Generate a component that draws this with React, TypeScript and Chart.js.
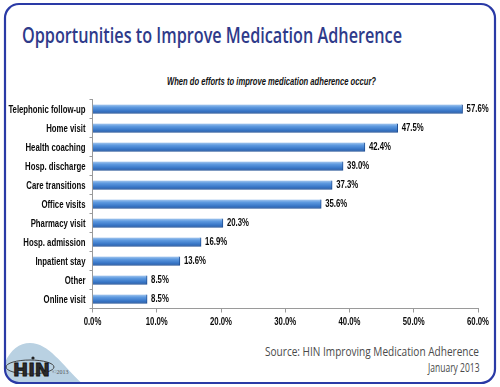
import React, { useEffect, useRef } from "react";
import { Chart, registerables } from "chart.js";

Chart.register(...registerables);

const categories = [
  "Telephonic follow-up",
  "Home visit",
  "Health coaching",
  "Hosp. discharge",
  "Care transitions",
  "Office visits",
  "Pharmacy visit",
  "Hosp. admission",
  "Inpatient stay",
  "Other",
  "Online visit",
];
const values = [57.6, 47.5, 42.4, 39.0, 37.3, 35.6, 20.3, 16.9, 13.6, 8.5, 8.5];
const xTicks = [0, 10, 20, 30, 40, 50, 60];

const titleText = "Opportunities to Improve Medication Adherence";
const subtitleText = "When do efforts to improve medication adherence occur?";
const sourceLines = ["Source: HIN Improving Medication Adherence", "January 2013"];

const LABEL_FONT = "'Liberation Sans', Arial, sans-serif";
const SQUEEZE = 0.74;

function drawCondensed(ctx: CanvasRenderingContext2D, text: string, x: number, y: number, align: CanvasTextAlign) {
  ctx.save();
  ctx.translate(x, y);
  ctx.scale(SQUEEZE, 1);
  ctx.textAlign = align;
  ctx.fillText(text, 0, 0);
  ctx.restore();
}

const condensedLabels = {
  id: "condensedLabels",
  afterDatasetsDraw(chart: any) {
    const ctx = chart.ctx;
    const xs = chart.scales.x;
    const ys = chart.scales.y;
    const meta = chart.getDatasetMeta(0);
    ctx.save();
    ctx.font = `bold 10.5px ${LABEL_FONT}`;
    ctx.fillStyle = "#0a0a0a";
    ctx.textBaseline = "middle";
    categories.forEach((c, i) => {
      drawCondensed(ctx, c, ys.right - 7, ys.getPixelForValue(i) + 1, "right");
    });
    xTicks.forEach((v) => {
      drawCondensed(ctx, v.toFixed(1) + "%", xs.getPixelForValue(v), xs.top + 13.5, "center");
    });
    meta.data.forEach((el: any, i: number) => {
      drawCondensed(ctx, values[i].toFixed(1) + "%", el.x + 4, el.y, "left");
    });
    ctx.restore();
  },
};

export default function App() {
  const ref = useRef<HTMLCanvasElement>(null);
  useEffect(() => {
    if (!ref.current) return;
    const chart = new Chart(ref.current, {
      type: "bar",
      data: {
        labels: categories,
        datasets: [
          {
            data: values,
            barThickness: 9,
            borderWidth: { top: 0, left: 0, right: 1, bottom: 1 } as any,
            borderColor: "#1f4f94",
            borderSkipped: false,
            backgroundColor: (c: any) => {
              const chartObj = c.chart;
              const y = chartObj.scales?.y;
              if (!y || c.dataIndex === undefined) return "#3f7fcc";
              const py = y.getPixelForValue(c.dataIndex);
              if (!Number.isFinite(py)) return "#3f7fcc";
              const g = chartObj.ctx.createLinearGradient(0, py - 4.5, 0, py + 4.5);
              g.addColorStop(0, "#a6c8ee");
              g.addColorStop(0.3, "#5e9ae0");
              g.addColorStop(0.7, "#3a78c8");
              g.addColorStop(1, "#2a5ea8");
              return g;
            },
          },
        ],
      },
      options: {
        indexAxis: "y",
        animation: false,
        responsive: false,
        maintainAspectRatio: false,
        layout: { padding: { top: 11.5, right: 17, left: 0, bottom: 0 } },
        plugins: {
          legend: { display: false },
          tooltip: { enabled: false },
          title: { display: false },
        },
        scales: {
          x: {
            min: 0,
            max: 60,
            afterBuildTicks: (s: any) => {
              s.ticks = xTicks.map((v) => ({ value: v }));
            },
            ticks: { display: false },
            grid: {
              drawOnChartArea: false,
              drawTicks: true,
              tickLength: 4,
              color: "#9a9a9a",
            },
            border: { color: "#9a9a9a", width: 1 },
            afterFit: (s: any) => {
              s.height = 29.5;
            },
          },
          y: {
            ticks: { display: false },
            grid: {
              drawOnChartArea: false,
              drawTicks: true,
              tickLength: 3,
              color: "#9a9a9a",
            },
            border: { color: "#9a9a9a", width: 1 },
            afterFit: (s: any) => {
              s.width = 92.5;
            },
          },
        },
      },
      plugins: [condensedLabels],
    } as any);
    return () => chart.destroy();
  }, []);

  return (
    <div
      style={{
        position: "absolute",
        left: 0,
        top: 0,
        width: 500,
        height: 387,
        background: "#fff",
        overflow: "hidden",
      }}
    >
      <svg width={500} height={387} style={{ position: "absolute", left: 0, top: 0 }}>
        <defs>
          <clipPath id="frameClip">
            <rect x={5} y={4} width={490} height={379} rx={14} ry={14} />
          </clipPath>
        </defs>
        <path
          clipPath="url(#frameClip)"
          d="M 0 387 L 3 368 C 8 352, 18 343, 30 343 C 50 343, 64 368, 86 387 Z"
          fill="#b9d1e2"
        />
        <rect
          x={5}
          y={4}
          width={490}
          height={379}
          rx={14}
          ry={14}
          fill="none"
          stroke="#2a3aa6"
          strokeWidth={2.2}
        />
        <text
          x={22}
          y={43}
          fontFamily="'Open Sans', sans-serif"
          fontSize={22}
          fontWeight={600}
          fill="#2e3a8a"
          textLength={380}
          lengthAdjust="spacingAndGlyphs"
        >
          {titleText}
        </text>
        <text
          x={167}
          y={85}
          fontFamily={LABEL_FONT}
          fontSize={10}
          fontWeight="bold"
          fontStyle="italic"
          fill="#111"
          textLength={209}
          lengthAdjust="spacingAndGlyphs"
        >
          {subtitleText}
        </text>
        <text
          x={265}
          y={356}
          fontFamily="'Open Sans', sans-serif"
          fontSize={12.5}
          fill="#4a4a4a"
          textLength={214}
          lengthAdjust="spacingAndGlyphs"
        >
          {sourceLines[0]}
        </text>
        <text
          x={428}
          y={372}
          fontFamily="'Open Sans', sans-serif"
          fontSize={12.5}
          fill="#4a4a4a"
          textLength={51.5}
          lengthAdjust="spacingAndGlyphs"
        >
          {sourceLines[1]}
        </text>
        <ellipse cx={30} cy={367} rx={24} ry={7} fill="none" stroke="#333" strokeWidth={0.9} />
        <text
          x={13}
          y={376}
          fontFamily="'DejaVu Sans', sans-serif"
          fontWeight="bold"
          fontSize={17}
          fill="#2b2b2b"
          stroke="#111"
          strokeWidth={0.8}
          textLength={37}
          lengthAdjust="spacingAndGlyphs"
        >
          HIN
        </text>
        <circle cx={33} cy={358} r={1.6} fill="#222" />
        <text x={52} y={374} fontFamily="'Liberation Serif', serif" fontSize={6} fill="#555">
          ©2013
        </text>
      </svg>
      <canvas
        ref={ref}
        width={495}
        height={250}
        style={{ position: "absolute", left: 0, top: 88, width: 495, height: 250 }}
      />
    </div>
  );
}
